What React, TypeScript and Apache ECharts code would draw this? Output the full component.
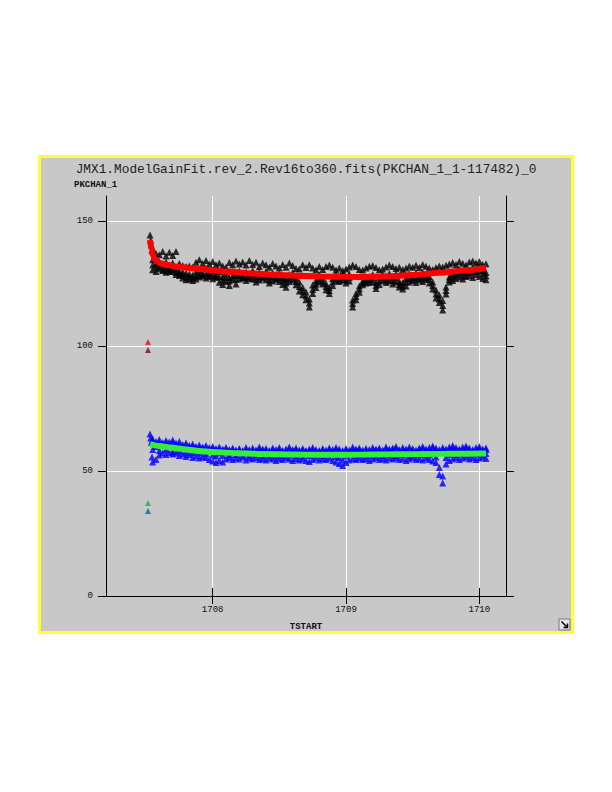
import React, { useEffect, useRef } from "react";
import * as echarts from "echarts";

const titleText = "JMX1.ModelGainFit.rev_2.Rev16to360.fits(PKCHAN_1_1-117482)_0";
const yAxisName = "PKCHAN_1";
const xAxisName = "TSTART";
const xTicks = [1708, 1709, 1710];
const yTicks = [0, 50, 100, 150];

const seriesTimes = [
  1707.55, 1707.575, 1707.6, 1707.625, 1707.65, 1707.675, 1707.7, 1707.725, 1707.75, 1707.775,
  1707.8, 1707.825, 1707.85, 1707.875, 1707.9, 1707.925, 1707.95, 1707.975, 1708, 1708.025,
  1708.05, 1708.075, 1708.1, 1708.125, 1708.15, 1708.175, 1708.2, 1708.225, 1708.25, 1708.275,
  1708.3, 1708.325, 1708.35, 1708.375, 1708.4, 1708.425, 1708.45, 1708.475, 1708.5, 1708.525,
  1708.55, 1708.575, 1708.6, 1708.625, 1708.65, 1708.675, 1708.7, 1708.725, 1708.75, 1708.775,
  1708.8, 1708.825, 1708.85, 1708.875, 1708.9, 1708.925, 1708.95, 1708.975, 1709, 1709.025,
  1709.05, 1709.075, 1709.1, 1709.125, 1709.15, 1709.175, 1709.2, 1709.225, 1709.25, 1709.275,
  1709.3, 1709.325, 1709.35, 1709.375, 1709.4, 1709.425, 1709.45, 1709.475, 1709.5, 1709.525,
  1709.55, 1709.575, 1709.6, 1709.625, 1709.65, 1709.675, 1709.7, 1709.725, 1709.75, 1709.775,
  1709.8, 1709.825, 1709.85, 1709.875, 1709.9, 1709.925, 1709.95, 1709.975, 1710, 1710.025,
  1710.05,
];

const blackHi = [
  139, 137, 136.5, 137.8, 136, 137.5, 136.2, 137.8, 133, 132.2,
  131.8, 132, 131.5, 133.5, 134.5, 133, 134.2, 132.8, 133.8, 132.5,
  133.2, 132, 131.5, 133.4, 132.5, 134, 132.8, 133.6, 132.4, 134.2,
  132.6, 133.5, 131.8, 133.2, 132.5, 131.5, 133, 132, 131.2, 132.6,
  131.5, 133.2, 132.2, 131, 130.8, 132.5, 131.4, 132.5, 131.2, 130.5,
  131.8, 130.6, 131.8, 132.4, 131.5, 130.4, 131.2, 130.2, 130.8, 131.6,
  132.4, 131.8, 130.6, 130.4, 131.2, 131.9, 132.2, 131.4, 130.5, 130.8,
  131.6, 132.4, 131.8, 131, 131.5, 130.6, 131.2, 132, 131.5, 132.3,
  131.4, 132.6, 131.9, 131.2, 130.6, 131.4, 132, 131.6, 132.3, 132.8,
  133.4, 132.6, 133.8, 133.1, 132.4, 133.6, 134, 133.2, 133.8, 132.6,
  132.9,
];
const blackMid = [
  134.5, 133, 133.8, 132, 133.6, 131.5, 133.2, 130.8, 130, 129.6,
  129.2, 128.8, 128.4, 129.6, 130.4, 129.2, 131, 129.4, 130.2, 128.6,
  129.8, 127.8, 129, 127.4, 129.8, 128.4, 130, 128.2, 129.6, 128.8,
  130.2, 128, 129.4, 128.6, 129.8, 127.8, 129.2, 127.6, 128.8, 127.4,
  126.8, 128.6, 129.4, 127.2, 125.6, 123.4, 121.6, 118.8, 124.4, 126.2,
  128.4, 127.2, 125, 123.4, 127, 128.4, 127.4, 128.6, 127.8, 128.8,
  118.4, 121, 124, 126, 127.2, 127.8, 128.6, 125.4, 127.4, 128.6,
  127.8, 129, 127.6, 128.8, 125.8, 125.4, 127, 128.8, 127.6, 129.2,
  128, 129.4, 128.4, 127.8, 125.6, 122.4, 120.4, 118.2, 123.6, 127.6,
  128.8, 129.6, 130.6, 129.8, 130.8, 130.2, 131.4, 130.6, 131.8, 130.2,
  129.4,
];
const blackQuarter = [
  132.4, 131.6, 131.8, 130.6, 131.2, 129.8, 130.6, 129.4, 129, 128.4,
  127.8, 127.6, 127.2, 128, 128.8, 128, 129, 128.2, 128.6, 127.8,
  127.6, 126.4, 127.4, 126, 128, 126.6, 128.2, 127.4, 127.8, 127.6,
  128.4, 126.8, 127.8, 127.8, 128.2, 126.4, 127.6, 126.8, 127.2, 126.2,
  125.2, 127.2, 127.8, 125.8, 123.8, 122, 120, 117.2, 122.6, 124.8,
  127, 126, 123.8, 122.2, 125.6, 127.2, 126.6, 127.4, 126.4, 127.4,
  117, 119.8, 122.8, 125.2, 126.2, 126.6, 127.2, 124.2, 126, 127.4,
  126.6, 127.4, 126.2, 127.2, 124.6, 124, 125.6, 127.2, 126.8, 127.2,
  127.2, 127.6, 127.4, 126.6, 124.2, 120.8, 118.8, 116.2, 122.2, 126.6,
  127.6, 128.4, 129.2, 128.2, 129.2, 129.4, 129.6, 129.8, 130, 128.8,
  128,
];
const blackLo = [
  130.5, 129.8, 131, 130.2, 129.5, 130.4, 129.8, 128.6, 128.2, 127.2,
  126.5, 126.8, 126.2, 126.8, 127.6, 128.4, 127.2, 127.8, 126.9, 127.5,
  125.5, 124.6, 125.8, 124.2, 126.5, 124.8, 126.8, 127.2, 126.2, 127,
  126.8, 125.6, 126.4, 127.2, 126.5, 125.2, 126, 126.8, 125.8, 124.6,
  123.5, 125.8, 126.4, 124.5, 122, 120.5, 118.5, 115.6, 121, 123.4,
  125.6, 124.8, 122.5, 121, 124.2, 126.2, 125.8, 126.4, 125.2, 126,
  115.6, 118.5, 121.5, 124.5, 125.2, 125.4, 125.8, 123, 124.6, 126.2,
  125.4, 126, 124.8, 125.6, 123.6, 122.8, 124, 125.6, 126.2, 125.4,
  126.4, 125.8, 126.6, 125.2, 122.8, 119.2, 117.4, 114.4, 120.8, 125.6,
  126.2, 127, 127.6, 126.8, 127.8, 128.2, 127.4, 128.6, 127.8, 127,
  126.5,
];

const blueHi = [
  62.8, 61.8, 62.6, 61.4, 62.2, 61.6, 62.4, 61.2, 61.8, 60.6,
  61.2, 60.2, 60.8, 59.8, 60.4, 59.6, 60.2, 59.4, 59.8, 59,
  59.6, 58.8, 59.4, 58.6, 59.2, 58.4, 59, 58.2, 59.4, 58.6,
  59.2, 58.4, 59.6, 58.8, 59, 58.2, 59.2, 58.6, 59.4, 58.2,
  58.8, 59.6, 58.6, 59.2, 58.4, 59, 58.2, 58.8, 59.4, 58.6,
  58.2, 59, 58.4, 59.2, 58.6, 59.4, 58.8, 58.2, 59, 58.4,
  59.6, 58.8, 59.2, 58.4, 59, 58.6, 59.4, 58.8, 59.2, 58.4,
  59.6, 58.8, 59.2, 59.8, 58.6, 59.4, 58.8, 59.6, 59, 58.4,
  59.2, 59.8, 58.8, 59.4, 60, 59.2, 58.6, 59.4, 58.8, 59.6,
  60.2, 59.4, 58.8, 59.6, 60, 59.2, 58.6, 59.4, 59.8, 58.8,
  59.2,
];
const blueQuarter = [
  62, 61, 61.4, 60.6, 61.2, 60.8, 61.4, 60.4, 60.6, 60,
  60.4, 59.8, 59.8, 59.4, 59.6, 59.2, 59.4, 58.8, 59.2, 58.6,
  58.8, 58.4, 58.8, 58.2, 58.6, 58, 58.4, 57.8, 58.6, 58,
  58.4, 58, 58.8, 58.2, 58.4, 57.8, 58.6, 58, 58.6, 57.8,
  58.2, 58.8, 58, 58.6, 57.8, 58.4, 57.8, 58.2, 58.6, 58,
  57.8, 58.4, 57.8, 58.6, 58, 58.6, 58.2, 57.8, 58.4, 57.8,
  58.8, 58.2, 58.6, 57.8, 58.4, 58, 58.6, 58.2, 58.6, 57.8,
  58.8, 58.2, 58.6, 59, 58, 58.6, 58.2, 58.8, 58.4, 57.8,
  58.6, 59, 58.2, 58.6, 59.2, 58.4, 58, 58.6, 58.2, 58.8,
  59.2, 58.6, 58.2, 58.8, 59.2, 58.6, 58, 58.6, 59, 58.2,
  58.6,
];
const blueMid = [
  58.6, 59.8, 58.2, 60.4, 58.6, 59.8, 57.8, 59.6, 58, 59.2,
  57.6, 58.8, 57.4, 58.4, 57.2, 58.2, 57, 57.8, 56.4, 56,
  57.2, 56.2, 57.6, 56.4, 57.4, 56.6, 57.8, 56.4, 57.2, 56.2,
  57.4, 56.6, 57.2, 56.2, 57.6, 56.4, 57, 56, 57.4, 56.2,
  57.2, 56.4, 57.6, 56.2, 57, 56, 57.4, 56.2, 57, 56.4,
  57.2, 56.2, 57, 56.4, 57.2, 55.8, 55.4, 54.4, 56, 56.8,
  57.4, 56.2, 57, 56.4, 57.2, 56.2, 57, 56.4, 57.6, 56.2,
  57, 56.6, 57.4, 56.2, 57.2, 56.6, 57.4, 56.2, 57, 56.4,
  57.6, 56.6, 57.2, 56.4, 57, 55.6, 51.4, 48, 55.4, 56.6,
  57.4, 56.6, 57.2, 56.8, 57.6, 56.6, 57.4, 56.8, 57.2, 56.6,
  57,
];
const blueLo = [
  53.6, 54.6, 56.4, 57.2, 56.6, 57.4, 56.8, 57.2, 56.2, 56.8,
  55.8, 56.6, 55.4, 56, 55.2, 55.8, 55.4, 54.6, 54, 53.4,
  54.2, 53.6, 54.8, 55.4, 54.6, 55.2, 54.8, 55.6, 54.4, 55.2,
  54.8, 55.4, 54.6, 55, 54.4, 55.2, 54.8, 54.2, 55, 54.6,
  55.4, 54.8, 54.2, 55, 54.4, 54.8, 54.2, 53.8, 54.6, 55.2,
  54.4, 55, 54.6, 55.2, 54.2, 53.6, 53, 52.2, 53.4, 54.4,
  55, 54.6, 55.2, 54.6, 55, 54.2, 54.8, 55.4, 54.6, 55,
  54.4, 55.2, 54.8, 55.4, 54.6, 55, 54.2, 54.8, 55.4, 54.6,
  55, 54.4, 55.2, 54.6, 54, 53.4, 48.6, 45.2, 52.8, 54.2,
  54.8, 55.4, 54.6, 55.2, 55.6, 54.8, 55.4, 54.6, 55.2, 55.6,
  55,
];

// first samples (start spike)
const startTimes = [1707.53, 1707.535, 1707.54, 1707.545];
const blackStart = [144.4, 142.2, 140.4, 138.2];
const blueStart = [64.8, 63.2, 61.5, 55.6];

// isolated early samples
const outlierTime = 1707.515;
const redOutlier = 101.6;
const blackOutlier = 98.4;
const greenOutlier = 37.2;
const blueOutlier = 34;

// model fits
const redFitT = [1707.53, 1707.54, 1707.55, 1707.57, 1707.6, 1707.65, 1707.75, 1707.9, 1708.1, 1708.3, 1708.5, 1708.7, 1708.9, 1709.1, 1709.3, 1709.5, 1709.7, 1709.9, 1710.05];
const redFitY = [142.4, 139, 136.5, 134.5, 133.2, 132.5, 131.6, 130.8, 129.8, 129.0, 128.4, 128.0, 127.7, 127.6, 127.8, 128.4, 129.3, 130.3, 131.2];
const greenFitT = [1707.53, 1707.6, 1707.7, 1707.8, 1707.9, 1708.0, 1708.2, 1708.4, 1708.6, 1708.8, 1709.0, 1709.2, 1709.4, 1709.6, 1709.8, 1710.05];
const greenFitY = [60.8, 60.0, 59.3, 58.6, 58.0, 57.6, 57.1, 56.8, 56.6, 56.5, 56.5, 56.6, 56.7, 56.8, 56.9, 57.0];

function buildBand(rows: number[][], st: number[], sv: number[]) {
  const out: number[][] = [];
  st.forEach((t, i) => out.push([t, sv[i]]));
  seriesTimes.forEach((t, i) => {
    rows.forEach((r) => out.push([t, r[i]]));
  });
  return out;
}

const MONO = "'Liberation Mono', 'DejaVu Sans Mono', monospace";

export default function App() {
  const ref = useRef<HTMLDivElement>(null);
  useEffect(() => {
    if (!ref.current) return;
    const chart = echarts.init(ref.current, null, { renderer: "svg" });
    const blackData = buildBand([blackHi, blackMid, blackQuarter, blackLo], startTimes, blackStart);
    const blueData = buildBand([blueHi, blueQuarter, blueMid, blueLo], startTimes, blueStart);
    const tickStyle = { color: "#000", width: 1 };
    const option: any = {
      animation: false,
      backgroundColor: "transparent",
      title: {
        text: titleText,
        left: "center",
        top: 158,
        textStyle: { fontFamily: MONO, fontSize: 12.8, fontWeight: "normal", color: "#222" },
      },
      grid: { left: 106, top: 196, width: 400, height: 400, containLabel: false },
      xAxis: [
        {
          type: "value",
          min: 1707.2,
          max: 1710.2,
          position: "bottom",
          name: xAxisName,
          nameLocation: "middle",
          nameGap: 26,
          nameTextStyle: { fontFamily: MONO, fontSize: 9, fontWeight: "bold", color: "#111" },
          axisLine: { show: true, lineStyle: { color: "#fff", width: 1 } },
          axisTick: { show: true, inside: false, length: 8, lineStyle: tickStyle, customValues: xTicks },
          axisLabel: { show: true, margin: 9, fontFamily: MONO, fontSize: 9, color: "#111", customValues: xTicks, formatter: (v: number) => String(v) },
          splitLine: { show: true, lineStyle: { color: "#fff", width: 1 } },
        },
        {
          type: "value",
          min: 1707.2,
          max: 1710.2,
          position: "top",
          axisLine: { show: true, lineStyle: { color: "#000", width: 1 } },
          axisTick: { show: true, inside: false, length: 8, lineStyle: tickStyle, customValues: xTicks },
          axisLabel: { show: false },
          splitLine: { show: false },
        },
      ],
      yAxis: [
        {
          type: "value",
          min: 0,
          max: 160,
          position: "left",
          axisLine: { show: true, lineStyle: { color: "#000", width: 1 } },
          axisTick: { show: true, inside: false, length: 8, lineStyle: tickStyle, customValues: yTicks },
          axisLabel: { show: true, margin: 13, fontFamily: MONO, fontSize: 9, color: "#111", customValues: yTicks },
          splitLine: { show: true, lineStyle: { color: "#fff", width: 1 } },
        },
        {
          type: "value",
          min: 0,
          max: 160,
          position: "right",
          axisLine: { show: true, lineStyle: { color: "#000", width: 1 } },
          axisTick: { show: true, inside: false, length: 8, lineStyle: tickStyle, customValues: yTicks },
          axisLabel: { show: false },
          splitLine: { show: false },
        },
      ],
      graphic: [
        {
          type: "text",
          left: 74,
          top: 180,
          style: { text: yAxisName, font: `bold 9px ${MONO}`, fill: "#111" },
        },
        {
          type: "rect",
          shape: { x: 559, y: 619, width: 11, height: 11 },
          style: { fill: "#e6e6e6", stroke: "#777", lineWidth: 1 },
        },
        {
          type: "line",
          shape: { x1: 561.5, y1: 621.5, x2: 567.5, y2: 627.5 },
          style: { stroke: "#000", lineWidth: 1.5 },
        },
        {
          type: "polyline",
          shape: { points: [[563.5, 627.5], [567.5, 627.5], [567.5, 623.5]] },
          style: { stroke: "#000", lineWidth: 1.5, fill: "none" },
        },
      ],
      series: [
        {
          type: "scatter",
          name: "PKCHAN_1",
          data: blackData,
          symbol: "triangle",
          symbolSize: 7,
          itemStyle: { color: "#000" },
          z: 2,
        },
        {
          type: "line",
          name: "fit1",
          data: redFitT.map((t, i) => [t, redFitY[i]]),
          smooth: 0.3,
          smoothMonotone: "x",
          showSymbol: false,
          lineStyle: { color: "#ff0000", width: 6 },
          z: 3,
        },
        {
          type: "scatter",
          name: "PKCHAN_2",
          data: blueData,
          symbol: "triangle",
          symbolSize: 7,
          itemStyle: { color: "#0000ff" },
          z: 2,
        },
        {
          type: "line",
          name: "fit2",
          data: greenFitT.map((t, i) => [t, greenFitY[i]]),
          smooth: 0.3,
          smoothMonotone: "x",
          showSymbol: false,
          lineStyle: { color: "#33ee33", width: 6 },
          z: 3,
        },
        {
          type: "scatter",
          name: "early",
          data: [
            { value: [outlierTime, redOutlier], itemStyle: { color: "#dd1111" } },
            { value: [outlierTime, blackOutlier], itemStyle: { color: "#7a1010" } },
            { value: [outlierTime, greenOutlier], itemStyle: { color: "#22aa55" } },
            { value: [outlierTime, blueOutlier], itemStyle: { color: "#116688" } },
          ],
          symbol: "triangle",
          symbolSize: 6,
          z: 4,
        },
      ],
    };
    chart.setOption(option);
    return () => chart.dispose();
  }, []);

  return (
    <div style={{ position: "absolute", left: 0, top: 0, width: 612, height: 792, background: "#fff" }}>
      <div
        style={{
          position: "absolute",
          left: 38,
          top: 155,
          width: 536,
          height: 479,
          boxSizing: "border-box",
          border: "3px solid #ffff33",
          background: "#c8c8c8",
        }}
      />
      <div ref={ref} style={{ position: "absolute", left: 0, top: 0, width: 612, height: 792 }} />
    </div>
  );
}
